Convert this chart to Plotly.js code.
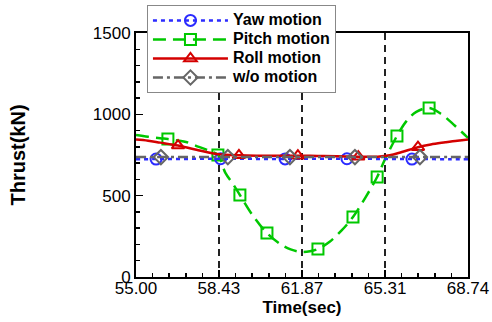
<!DOCTYPE html>
<html><head><meta charset="utf-8">
<script src="https://cdn.plot.ly/plotly-3.0.1.min.js"></script>
<style>html,body{margin:0;padding:0;background:#fff}#chart{width:492px;height:322px}</style>
</head><body><div id="chart"></div>
<script>
// ---- data ----
const seriesNames = ['Yaw motion', 'Pitch motion', 'Roll motion', 'w/o motion'];
const xTickVals = [55.00, 58.43, 61.87, 65.31, 68.74];
const xTickText = ['55.00', '58.43', '61.87', '65.31', '68.74'];
const yTickVals = [0, 500, 1000, 1500];

const yawT = [55.0, 56.0, 57.0, 58.0, 59.0, 60.0, 61.0, 62.0, 63.0, 64.0, 65.0, 66.0, 67.0, 68.0, 68.74];
const yawV = [724, 725, 726, 727, 727, 726, 726, 727, 727, 727, 726, 725, 725, 724, 724];
const yawMarkT = [55.83, 58.50, 61.17, 63.73, 66.42];
const yawMarkV = [725, 727, 726, 727, 725];

const pitchT = [55.0, 55.5, 56.0, 56.32, 56.8, 57.07, 57.6, 58.0, 58.39, 58.7, 59.0, 59.3, 59.8, 60.42, 61.0, 61.4, 61.8, 62.2, 62.53, 63.0, 63.5, 63.98, 64.5, 64.98, 65.31, 65.8, 66.2, 66.6, 67.13, 67.6, 68.2, 68.74];
const pitchV = [873, 862, 853, 848, 838, 830, 800, 778, 750, 640, 575, 504, 385, 270, 200, 170, 155, 158, 172, 215, 285, 369, 490, 615, 725, 867, 960, 1015, 1039, 1005, 930, 855];
const pitchMarkT = [56.32, 58.39, 59.30, 60.42, 62.53, 63.98, 64.98, 65.80, 67.13];
const pitchMarkV = [848, 750, 504, 270, 172, 369, 615, 867, 1039];

const rollT = [55.0, 55.5, 56.0, 56.74, 57.5, 58.0, 58.43, 59.26, 60.0, 61.0, 61.7, 62.5, 63.3, 64.2, 65.0, 65.5, 66.0, 66.67, 67.2, 67.8, 68.3, 68.74];
const rollV = [845, 838, 826, 808, 782, 765, 754, 748, 746, 746, 746, 744, 742, 740, 740, 748, 768, 798, 815, 828, 838, 845];
const rollMarkT = [56.74, 59.26, 61.70, 64.20, 66.67];
const rollMarkV = [808, 748, 746, 740, 798];

const woT = [55.0, 56.0, 57.0, 58.0, 59.0, 60.0, 61.0, 62.0, 63.0, 64.0, 65.0, 66.0, 67.0, 68.0, 68.74];
const woV = [737, 737, 737, 737, 737, 737, 737, 737, 737, 737, 737, 737, 737, 737, 737];
const woMarkT = [56.03, 58.80, 61.37, 64.06, 66.75];
const woMarkV = [737, 737, 737, 737, 737];

// ---- styles ----
const styles = [
  {color: '#2b2bff', dash: '4px,4px', symbol: 'circle-open'},
  {color: '#00c800', dash: '13px,7px', symbol: 'square-open'},
  {color: '#d40000', dash: 'solid', symbol: 'triangle-up-open'},
  {color: '#666666', dash: '10px,4px,3px,4px', symbol: 'diamond-open'}
];
const curves = [[yawT, yawV, yawMarkT, yawMarkV], [pitchT, pitchV, pitchMarkT, pitchMarkV],
                [rollT, rollV, rollMarkT, rollMarkV], [woT, woV, woMarkT, woMarkV]];
const drawOrder = [1, 0, 2, 3];
const traces = [];
drawOrder.forEach(i => {
  const s = styles[i], c = curves[i];
  traces.push({x: c[0], y: c[1], mode: 'lines', line: {color: s.color, dash: s.dash, width: 2.5, shape: 'spline'}, showlegend: false, hoverinfo: 'skip'});
  traces.push({x: c[2], y: c[3], mode: 'markers', marker: {symbol: s.symbol, size: 11, color: s.color, line: {color: s.color, width: 2}}, showlegend: false});
});
// legend entries
seriesNames.forEach((n, i) => {
  const s = styles[i];
  traces.push({x: [null], y: [null], name: '<span style="font-size:16px">' + n + '</span>', mode: 'lines+markers', line: {color: s.color, dash: s.dash, width: 2.5},
    marker: {symbol: s.symbol, size: 11, color: s.color, line: {color: s.color, width: 2}}, legendrank: i + 1});
});

const font = 'Liberation Sans, Arial, sans-serif';
const layout = {
  width: 492, height: 322,
  margin: {l: 136, r: 24, t: 33, b: 45, autoexpand: false},
  paper_bgcolor: '#fff', plot_bgcolor: '#fff',
  font: {family: font, size: 17, color: '#000'},
  xaxis: {
    range: [55, 68.74], tickmode: 'array', tickvals: xTickVals, ticktext: xTickText,
    ticks: 'inside', ticklen: 7, tickwidth: 1.5, tickcolor: '#000',
    minor: {tick0: 55, dtick: 0.687, ticks: 'inside', ticklen: 4, tickcolor: '#000', showgrid: false},
    showgrid: true, gridcolor: '#222', griddash: '7px,5px', gridwidth: 1.8,
    showline: true, linecolor: '#000', linewidth: 2, mirror: true, zeroline: false,
    title: {text: '<b>Time(sec)</b>', font: {size: 17}, standoff: 2},
    tickfont: {size: 17}, ticklabelstandoff: -5
  },
  yaxis: {
    range: [0, 1500], tickmode: 'array', tickvals: yTickVals,
    ticks: 'inside', ticklen: 7, tickwidth: 1.5, tickcolor: '#000',
    minor: {tick0: 0, dtick: 100, ticks: 'inside', ticklen: 4, tickcolor: '#000', showgrid: false},
    showgrid: false, showline: true, linecolor: '#000', linewidth: 2, mirror: true, zeroline: false,
    title: {text: '<b>Thrust(kN)</b>', font: {size: 20}, standoff: 62},
    tickfont: {size: 17}
  },
  legend: {
    x: 0.033, y: 1.115, xanchor: 'left', yanchor: 'top',
    bgcolor: '#fff', bordercolor: '#888', borderwidth: 1,
    font: {family: font, size: 11.5, weight: 'bold'}, itemwidth: 75, tracegroupgap: 0
  },
  showlegend: true
};
Plotly.newPlot('chart', traces, layout, {staticPlot: true});
</script></body></html>
